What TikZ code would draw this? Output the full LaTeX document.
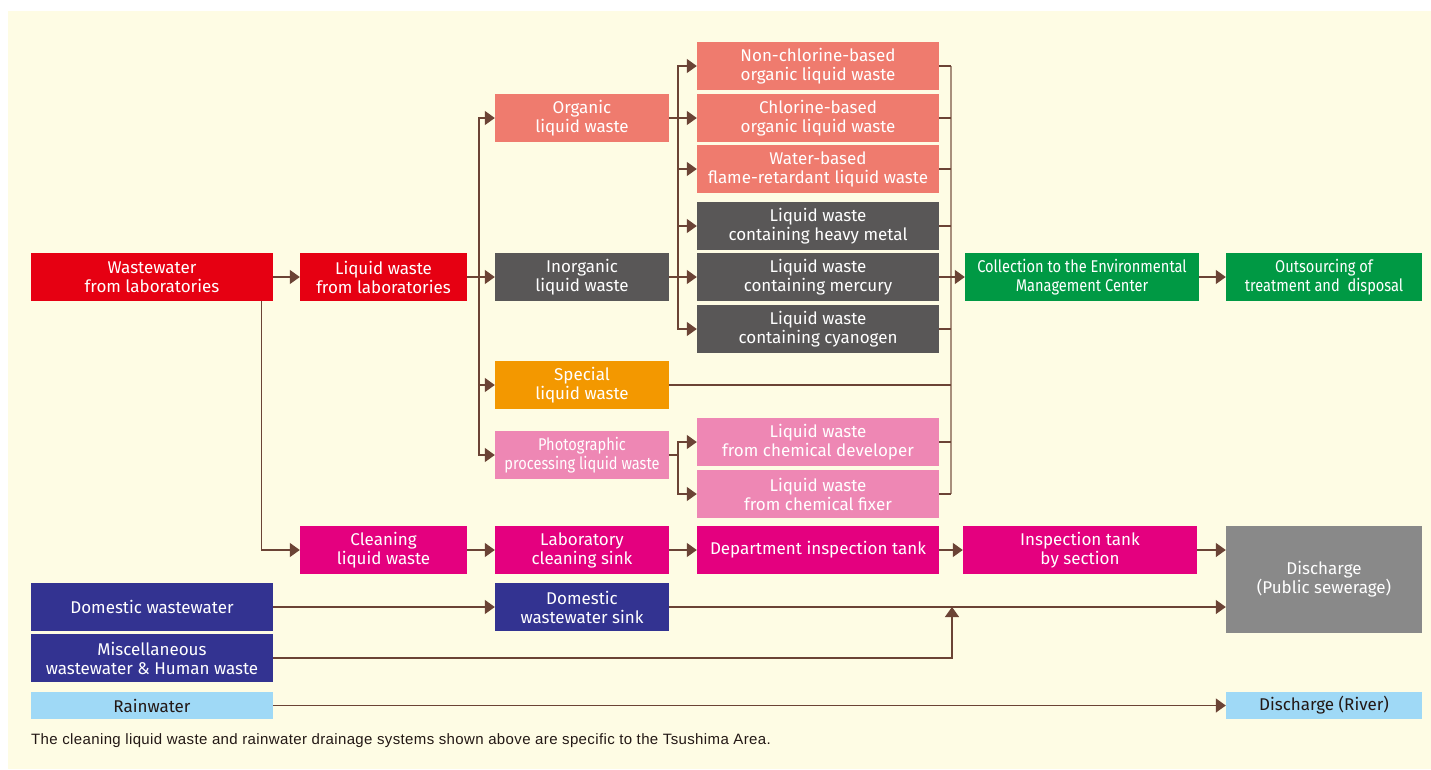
\documentclass[tikz,border=0pt]{standalone}
\usepackage{fontspec}
\setmainfont{Fira Sans}
\newfontfamily\narrowfont[FakeStretch=0.86]{Fira Sans}
\newfontfamily\notefont[LetterSpace=2.5]{Liberation Sans}
\usetikzlibrary{arrows.meta}

\definecolor{cream}{HTML}{FEFCE4}
\definecolor{labred}{HTML}{E60012}
\definecolor{salmon}{HTML}{EF7B6E}
\definecolor{slate}{HTML}{595757}
\definecolor{amber}{HTML}{F39800}
\definecolor{rose}{HTML}{EE87B4}
\definecolor{magenta}{HTML}{E4007F}
\definecolor{navy}{HTML}{333391}
\definecolor{sky}{HTML}{9FD9F6}
\definecolor{leaf}{HTML}{009944}
\definecolor{stone}{HTML}{898989}
\definecolor{pipe}{HTML}{6B4335}
\definecolor{pipelight}{HTML}{A88F7C}
\definecolor{ink}{HTML}{231815}

\begin{document}
\begin{tikzpicture}[x=1pt, y=-1pt,
    box/.style={rectangle, minimum height=48pt, inner sep=0pt, align=center, text=white,
        font=\fontsize{17}{19}\selectfont},
    wide/.style={box, minimum width=242pt},
    mid/.style={box, minimum width=174pt},
    short/.style={box, minimum width=167pt},
    long/.style={box, minimum width=234pt},
    last/.style={box, minimum width=196pt},
    narrow/.style={font=\narrowfont\fontsize{17}{19}\selectfont},
    line/.style={draw=pipe, line width=1.3pt},
    arrow/.style={line, -{Triangle[length=10pt, width=14pt]}, color=pipe}
]
\useasboundingbox (0,0) rectangle (1431,769);
\fill[cream] (8,11) rectangle (1431,769);

% Sources
\node[wide, fill=labred] (wwlab) at (152,277) {Wastewater\\from laboratories};
\node[short, fill=labred] (lwlab) at (383.5,277) {Liquid waste\\from laboratories};

% Liquid waste types
\node[mid, fill=salmon] (organic) at (582,118) {Organic\\liquid waste};
\node[mid, fill=slate] (inorg) at (582,277) {Inorganic\\liquid waste};
\node[mid, fill=amber] (special) at (582,385) {Special\\liquid waste};
\node[mid, fill=rose, narrow] (photo) at (582,455) {Photographic\\processing liquid waste};

% Sorted liquid waste
\node[wide, fill=salmon] (nonchl) at (818,66) {Non-chlorine-based\\organic liquid waste};
\node[wide, fill=salmon] (chl) at (818,118) {Chlorine-based\\organic liquid waste};
\node[wide, fill=salmon] (water) at (818,169) {Water-based\\flame-retardant liquid waste};
\node[wide, fill=slate] (heavy) at (818,226) {Liquid waste\\containing heavy metal};
\node[wide, fill=slate] (mercury) at (818,277) {Liquid waste\\containing mercury};
\node[wide, fill=slate] (cyano) at (818,329) {Liquid waste\\containing cyanogen};
\node[wide, fill=rose] (devel) at (818,442) {Liquid waste\\from chemical developer};
\node[wide, fill=rose] (fixer) at (818,494) {Liquid waste\\from chemical fixer};

% Collection
\node[long, fill=leaf, narrow] (collect) at (1082,277) {Collection to the Environmental\\Management Center};
\node[last, fill=leaf, narrow] (outsrc) at (1324,277) {Outsourcing of\\treatment and\ \ disposal};

% Cleaning line
\node[short, fill=magenta] (clean) at (383.5,550) {Cleaning\\liquid waste};
\node[mid, fill=magenta] (sink) at (582,550) {Laboratory\\cleaning sink};
\node[wide, fill=magenta] (dept) at (818,550) {Department inspection tank};
\node[long, fill=magenta] (insp) at (1080,550) {Inspection tank\\by section};
\node[last, fill=stone, minimum height=107pt] (sewer) at (1324,579.5) {Discharge\\(Public sewerage)};

% Domestic and rain
\node[wide, fill=navy] (domw) at (152,607) {Domestic wastewater};
\node[mid, fill=navy] (dsink) at (582,607) {Domestic\\wastewater sink};
\node[wide, fill=navy] (misc) at (152,658) {Miscellaneous\\wastewater \& Human waste};
\node[wide, fill=sky, text=ink, minimum height=27pt] (rain) at (152,705.5) {Rainwater};
\node[last, fill=sky, text=ink, minimum height=27pt] (river) at (1324,705.5) {Discharge (River)};

\node[anchor=west, inner sep=0pt, text=ink, font=\notefont\fontsize{15}{17}\selectfont] (note) at (31,741)
    {The cleaning liquid waste and rainwater drainage systems shown above are specific to the Tsushima Area.};

% Junctions
\coordinate (j1) at (479,277);
\coordinate (j2) at (678,118);
\coordinate (j3) at (678,277);
\coordinate (j4) at (678,455);
\coordinate (jr) at (951,277);
\coordinate (jm) at (952,607);

% Arrows
\draw[arrow] (wwlab) -- (lwlab);
\draw[line] (lwlab) -- (j1);
\foreach \n in {organic,inorg,special,photo}
    \draw[arrow] (j1) |- (\n);
\draw[line] (organic) -- (j2);
\draw[line] (inorg) -- (j3);
\draw[line] (j2 |- water) -- (j3 |- heavy);
\foreach \n in {nonchl,chl,water}
    \draw[arrow] (j2) |- (\n);
\foreach \n in {heavy,mercury,cyano}
    \draw[arrow] (j3) |- (\n);
\draw[line] (photo) -- (j4);
\foreach \n in {devel,fixer}
    \draw[arrow] (j4) |- (\n);

\draw[draw=pipelight, line width=1.3pt] (jr |- nonchl) -- (jr |- fixer);
\foreach \n in {nonchl,chl,water,heavy,cyano,special,devel,fixer}
    \draw[line] (\n) -- (\n -| jr);
\draw[arrow] (mercury) -- (collect);
\draw[arrow] (collect) -- (outsrc);

\draw[arrow] ([xshift=-12pt]wwlab.south east) |- (clean);
\draw[arrow] (clean) -- (sink);
\draw[arrow] (sink) -- (dept);
\draw[arrow] (dept) -- (insp);
\draw[arrow] (insp) -- (insp -| sewer.west);

\draw[arrow] (domw) -- (dsink);
\draw[arrow] (dsink) -- (dsink -| sewer.west);
\draw[arrow] (misc) -| (jm);
\draw[arrow] (rain) -- (river);

\end{tikzpicture}
\end{document}
